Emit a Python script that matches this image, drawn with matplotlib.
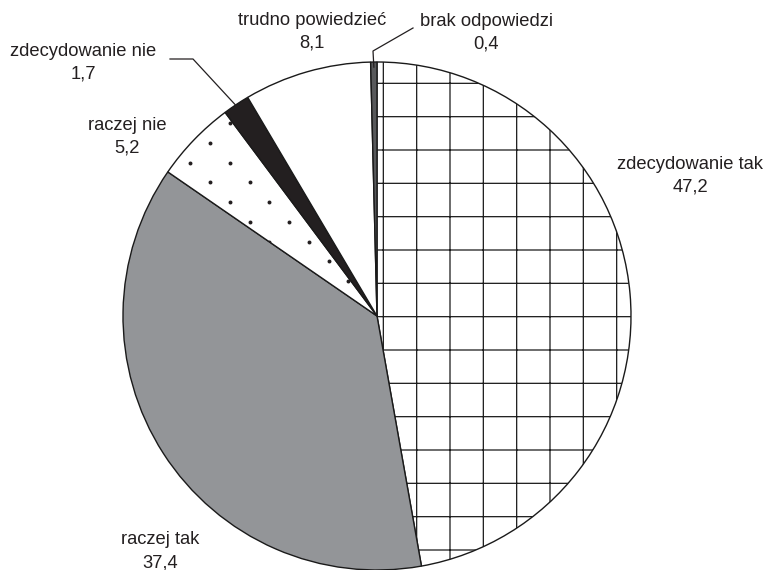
import numpy as np
import matplotlib
matplotlib.use("Agg")
import matplotlib.pyplot as plt

# answers, clockwise from 12 o'clock
labels = ["zdecydowanie tak", "raczej tak", "raczej nie",
          "zdecydowanie nie", "trudno powiedzieć", "brak odpowiedzi"]
values = [47.2, 37.4, 5.2, 1.7, 8.1, 0.4]
colors = ["white", "#939598", "white", "#231f20", "white", "#58595b"]
hatches = ["+", None, "dots", None, None, None]

# label placement in pixels (center of first line)
label_px = [(690, 164), (160, 540), (127, 125), (83, 51), (312, 20), (486, 21)]

W, H = 766, 570
CX, CY, R = 377, 316, 254


def px2d(x, y):
    return (x - CX) / R, (CY - y) / R


plt.rcParams["font.family"] = ["Liberation Sans", "DejaVu Sans"]
plt.rcParams["hatch.linewidth"] = 0.45
plt.rcParams["hatch.color"] = "#2b2b2b"

fig = plt.figure(figsize=(W / 200, H / 200), dpi=200)
ax = fig.add_axes([(CX - R) / W, (H - CY - R) / H, 2 * R / W, 2 * R / H])

wedges, _ = ax.pie(values, colors=colors, startangle=90, counterclock=False,
                   radius=1, wedgeprops=dict(edgecolor="#1a1a1a", linewidth=0.5))
ax.set_xlim(-1, 1)
ax.set_ylim(-1, 1)
ax.set_aspect("equal")
ax.axis("off")

for w, h in zip(wedges, hatches):
    if h == "+":
        w.set_hatch(h)
    elif h == "dots":
        # staggered dot texture, clipped to the wedge
        x0, y0 = px2d(210, 143)
        dx, dy = 39.5 / R, 19.7 / R
        pts = []
        for j in range(-110, 110):
            off = (j % 2) * dx / 2
            xs = x0 + off + dx * np.arange(-60, 60)
            pts.append(np.column_stack([xs, np.full_like(xs, y0 - j * dy)]))
        pts = np.vstack(pts)
        pts = pts[(np.abs(pts[:, 0]) < 1.05) & (np.abs(pts[:, 1]) < 1.05)]
        sc = ax.scatter(pts[:, 0], pts[:, 1], s=2.0, color="#231f20", linewidths=0)
        sc.set_clip_path(w)

for lab, v, (x, y) in zip(labels, values, label_px):
    tx, ty = px2d(x, y)
    ax.text(tx, ty, lab, ha="center", va="center", fontsize=6.6, color="#231f20", clip_on=False)
    tx, ty = px2d(x, y + 23)
    ax.text(tx, ty, f"{v:.1f}".replace(".", ","), ha="center", va="center",
            fontsize=6.6, color="#231f20", clip_on=False)

# leader lines for the two thin slices
cum = np.cumsum([0] + values)
for i, bend in [(3, [(170, 59), (193, 59)]), (5, [(413, 28), (373, 51)])]:
    mid = (cum[i] + values[i] / 2) / 100 * 2 * np.pi
    ex, ey = np.sin(mid) * 0.98, np.cos(mid) * 0.98
    pts = [px2d(*p) for p in bend] + [(ex, ey)]
    ax.plot([p[0] for p in pts], [p[1] for p in pts], color="#231f20",
            linewidth=0.45, clip_on=False)

fig.savefig("out.png", dpi=200)
